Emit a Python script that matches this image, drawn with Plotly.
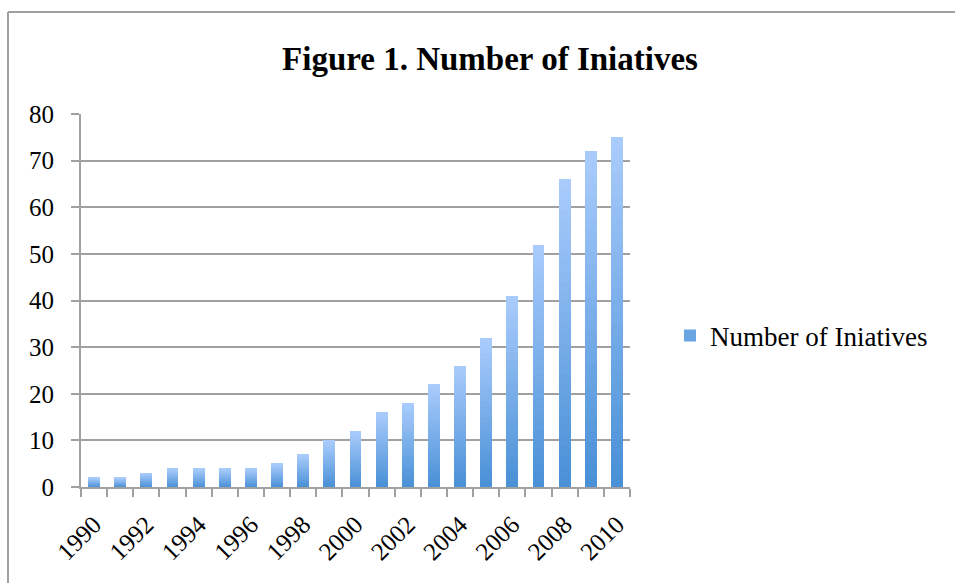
import plotly.graph_objects as go

years = list(range(1990, 2011))
values = [2, 2, 3, 4, 4, 4, 4, 5, 7, 10, 12, 16, 18, 22, 26, 32, 41, 52, 66, 72, 75]
tick_years = list(range(1990, 2011, 2))
series_name = "Number of Iniatives"
title_text = "Figure 1. Number of Iniatives"

W, H = 955, 583
L, R, T, B = 81, 325, 114, 96
pw, ph = W - L - R, H - T - B

def px_x(p):
    return (p - L) / pw

def px_y(p):
    return (H - B - p) / ph

FONT = "Liberation Serif"
top_rgb = (170, 204, 252)
bot_rgb = (72, 144, 214)
N = 30

fig = go.Figure()
for k in range(N):
    t = (k + 0.5) / N
    c = tuple(round(bot_rgb[i] + (top_rgb[i] - bot_rgb[i]) * t) for i in range(3))
    fig.add_trace(go.Bar(
        x=years,
        y=[v / N for v in values],
        name=series_name,
        marker=dict(color="rgb(%d,%d,%d)" % c, line=dict(width=0)),
        showlegend=(k == N // 3),
        legendgroup="s",
        width=0.45,
        hoverinfo="skip" if k else None,
    ))

fig.update_layout(
    width=W, height=H,
    margin=dict(l=L, r=R, t=T, b=B, autoexpand=False),
    barmode="stack",
    paper_bgcolor="white",
    plot_bgcolor="white",
    font=dict(family=FONT, size=25, color="black"),
    title=dict(
        text="<b>" + title_text + "</b>",
        font=dict(family=FONT, size=33, color="black"),
        x=px_x(490), xref="paper", xanchor="center",
        y=1 - 58 / H, yanchor="middle",
    ),
    showlegend=True,
    legend=dict(
        x=px_x(670), y=px_y(336), xanchor="left", yanchor="middle",
        font=dict(family=FONT, size=27, color="black"),
        bgcolor="rgba(0,0,0,0)", itemwidth=30, tracegroupgap=0,
    ),
    xaxis=dict(
        range=[1989.5, 2010.5],
        tickmode="array", tickvals=tick_years, ticktext=[str(y) for y in tick_years],
        tickangle=-45, ticks="", ticklen=0,
        showline=True, linecolor="#A0A0A0", linewidth=2,
        showgrid=False, zeroline=False,
        tickfont=dict(family=FONT, size=25, color="black"),
        ticklabelstandoff=11,
        minor=dict(tickmode="linear", tick0=1989.5, dtick=1, ticks="outside",
                   ticklen=8, tickcolor="#A0A0A0", tickwidth=2, showgrid=False),
    ),
    yaxis=dict(
        range=[0, 80], tickmode="linear", tick0=0, dtick=10,
        ticks="outside", ticklen=8, tickcolor="#A0A0A0", tickwidth=2,
        showline=True, linecolor="#A0A0A0", linewidth=2,
        showgrid=True, gridcolor="#A0A0A0", gridwidth=2,
        zeroline=False,
        tickfont=dict(family=FONT, size=25, color="black"),
        ticklabelstandoff=12,
    ),
)

# outer chart frame (top and left edges visible)
fx0, fy0 = px_x(8), px_y(12)
fig.add_shape(type="line", xref="paper", yref="paper",
              x0=fx0, y0=fy0, x1=px_x(W + 5), y1=fy0,
              line=dict(color="#A0A0A0", width=2))
fig.add_shape(type="line", xref="paper", yref="paper",
              x0=fx0, y0=fy0, x1=fx0, y1=px_y(H + 5),
              line=dict(color="#A0A0A0", width=2))

fig.write_html("out.html")
